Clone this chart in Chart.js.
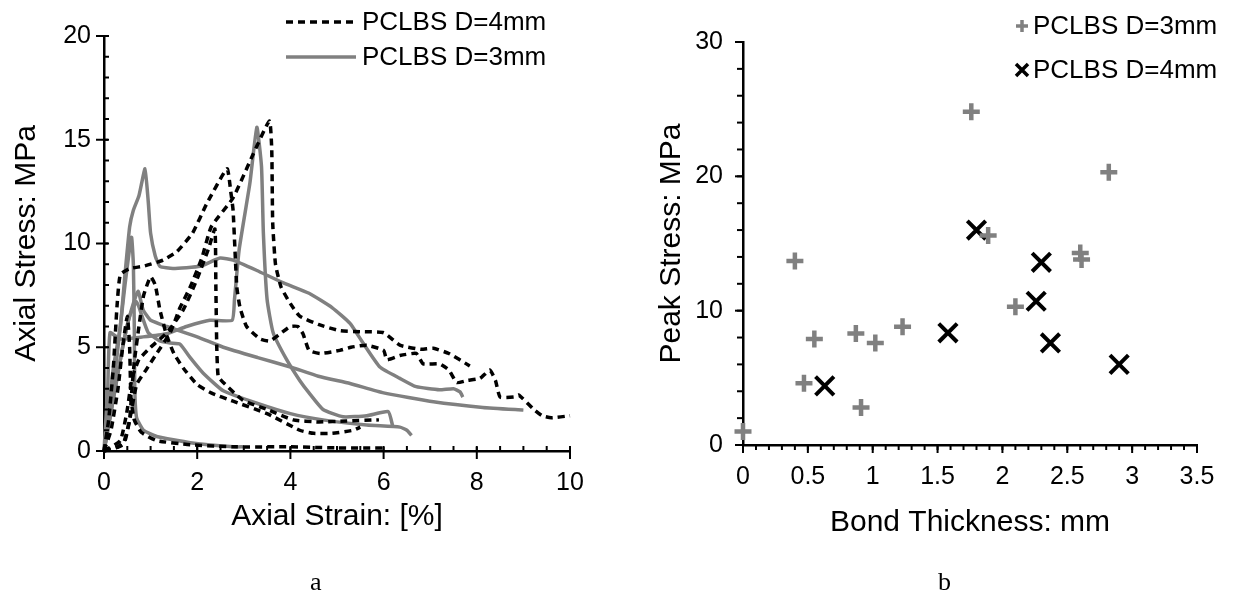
<!DOCTYPE html>
<html>
<head>
<meta charset="utf-8">
<script src="https://cdn.jsdelivr.net/npm/chart.js@4"></script>
<style>
  body { margin: 0; background: #fff; }
  #wrap { position: relative; width: 1238px; height: 611px; }
  canvas { position: absolute; top: 0; }
  #chartA { left: 0; }
  #chartB { left: 620px; }
  .cap { position: absolute; top: 569px; font: 26px "Liberation Serif", "Times New Roman", serif; line-height: 1; }
</style>
</head>
<body>
<div id="wrap">
  <canvas id="chartA" width="620" height="611"></canvas>
  <canvas id="chartB" width="618" height="611"></canvas>
  <div class="cap" style="left:310px">a</div>
  <div class="cap" style="left:938px">b</div>
</div>
<script>
/* Stress-strain curves (a) and peak stress vs bond thickness (b). */

const GREY = '#808080';
const BLACK = '#000';
const FONT = "'Liberation Sans', Arial, sans-serif";

/* --- (a) curves, D=4mm (dashed) --- */
const d4a_strain = [0, 0.4, 0.55, 0.7, 0.9, 1.13, 1.42, 1.63, 1.85, 2.1, 2.3, 2.77, 3.2, 3.55, 3.6, 3.62, 3.68, 3.8, 4.0, 4.2, 4.6, 5.06, 5.5, 6.0, 6.35, 6.8, 7.07, 7.4, 7.85];
const d4a_stress = [0, 0.3, 1.5, 3.2, 3.9, 4.7, 5.7, 6.9, 7.9, 9.3, 10.8, 12.2, 14.3, 15.9, 14.5, 11, 9, 7.9, 7.1, 6.5, 6.1, 5.8, 5.75, 5.7, 5.1, 4.9, 4.95, 4.7, 4.1];

const d4b_strain = [0, 0.1, 0.2, 0.28, 0.35, 0.56, 0.84, 1.27, 1.56, 1.9, 2.2, 2.64, 2.72, 2.77, 2.85, 2.92, 3.06, 3.35, 3.56, 3.78, 4.0, 4.16, 4.27, 4.4, 4.64, 5.06, 5.3, 5.64, 6.0, 6.07, 6.35, 6.7, 6.85, 7.2, 7.4, 7.57, 7.8, 8.07, 8.28, 8.4, 8.5, 8.8, 8.9, 9.2, 9.4, 9.6, 10];
const d4b_stress = [0, 1.5, 4, 7, 8.5, 8.8, 8.9, 9.2, 9.6, 10.5, 11.9, 13.6, 12.5, 11.6, 7.9, 6.9, 6.0, 5.4, 5.3, 5.65, 6.0, 6.0, 5.65, 4.85, 4.7, 4.85, 5.0, 5.1, 4.85, 4.4, 4.6, 4.7, 4.2, 4.2, 3.9, 3.3, 3.4, 3.5, 3.9, 3.4, 2.6, 2.6, 2.7, 2.05, 1.7, 1.6, 1.7];

const d4c_strain = [0, 0.3, 0.45, 0.55, 0.6, 0.65, 0.75, 0.85, 1.0, 1.1, 1.2, 1.34, 1.5, 1.7, 2.0, 2.3, 2.77, 3.5, 4.2, 4.5, 4.9, 5.35, 5.5];
const d4c_stress = [0, 0.2, 0.5, 1.5, 3, 4.3, 6, 7.5, 8.4, 8.0, 6.8, 5.6, 4.7, 4.0, 3.2, 2.8, 2.4, 1.8, 1.0, 0.85, 0.85, 1.0, 1.15];

const d4d_strain = [0, 0.35, 0.5, 0.6, 0.75, 1.0, 1.35, 1.7, 2.0, 2.25, 2.38, 2.4, 2.42, 2.45, 2.56, 2.98, 3.5, 4.06, 4.6, 5.2, 5.9];
const d4d_stress = [0, 0.5, 2, 3.5, 4.4, 5.0, 5.7, 6.8, 8.3, 9.8, 10.7, 8, 5, 3.6, 3.3, 2.45, 2.0, 1.5, 1.4, 1.45, 1.5];

const d4e_strain = [0, 0.15, 0.3, 0.4, 0.5, 0.55, 0.58, 0.65, 0.8, 1.13, 1.85, 2.85, 4.0, 5.0, 6.0];
const d4e_stress = [0, 1, 3, 5, 6.5, 5, 2.5, 1.5, 0.9, 0.5, 0.3, 0.2, 0.2, 0.15, 0.15];

/* --- (a) curves, D=3mm (solid grey) --- */
const d3a_strain = [0, 0.1, 0.2, 0.35, 0.45, 0.55, 0.63, 0.75, 0.88, 0.95, 1.0, 1.1, 1.2, 1.48, 2.06, 2.49, 2.77, 3.28, 3.85, 4.4, 4.9, 5.28, 5.56, 5.92, 6.35, 6.7, 7.2, 7.5, 7.64, 7.7];
const d3a_stress = [0, 2, 4, 6, 8.5, 10.8, 11.6, 12.3, 13.6, 12, 10.5, 9.4, 8.9, 8.8, 8.9, 9.3, 9.2, 8.7, 8.1, 7.6, 6.9, 6.15, 5.2, 4.05, 3.5, 3.1, 2.95, 3.0, 2.85, 2.6];

const d3b_strain = [0, 0.08, 0.13, 0.34, 0.84, 1.34, 1.77, 2.27, 2.75, 2.8, 2.9, 3.13, 3.28, 3.38, 3.42, 3.5, 3.63, 3.92, 4.2, 4.4, 4.7, 5.13, 5.64, 6.1, 6.2];
const d3b_stress = [0, 3, 5.7, 5.4, 5.5, 5.65, 6.0, 6.3, 6.3, 7.3, 9.7, 12.9, 15.6, 13.7, 10.5, 7.3, 5.7, 4.4, 3.4, 2.8, 2.0, 1.65, 1.7, 1.9, 1.15];

const d3c_strain = [0, 0.15, 0.3, 0.45, 0.59, 0.63, 0.65, 0.66, 0.7, 0.85, 1.13, 1.85, 2.77, 3.0];
const d3c_stress = [0, 2, 5, 8, 10.3, 9, 6, 3, 1.6, 1.0, 0.7, 0.4, 0.2, 0.2];

const d3d_strain = [0, 0.2, 0.4, 0.55, 0.73, 0.84, 1.0, 1.35, 2.0, 2.56, 3.3, 4.0, 4.6, 5.28, 6.0, 7.07, 8.13, 9.0];
const d3d_stress = [0, 2.5, 5, 6.5, 7.7, 6.8, 6.3, 6.0, 5.5, 5.0, 4.5, 4.05, 3.6, 3.25, 2.8, 2.37, 2.1, 1.97];

const d3e_strain = [0, 0.2, 0.4, 0.55, 0.7, 0.8, 0.95, 1.2, 1.42, 1.63, 1.85, 2.13, 2.56, 3.28, 4.0, 4.7, 5.64, 6.35, 6.5, 6.6];
const d3e_stress = [0, 2.5, 5, 6.5, 7.2, 6.6, 5.7, 5.3, 5.2, 5.15, 4.5, 3.75, 2.9, 2.3, 1.8, 1.5, 1.25, 1.15, 1.0, 0.75];

/* --- (b) peak stress vs bond thickness --- */
const d3_thick = [0, 0.4, 0.47, 0.55, 0.87, 0.91, 1.02, 1.23, 1.76, 1.89, 2.1, 2.6, 2.61, 2.82];
const d3_peak = [1.0, 13.7, 4.6, 7.9, 8.3, 2.8, 7.6, 8.8, 24.8, 15.6, 10.3, 14.3, 13.8, 20.3];
const d4_thick = [0.63, 1.58, 1.8, 2.26, 2.3, 2.37, 2.9];
const d4_peak = [4.4, 8.35, 16.0, 10.7, 13.6, 7.6, 6.0];

const legendLabels = ['PCLBS D=4mm', 'PCLBS D=3mm'];

const pairs = (xs, ys) => xs.map((x, i) => ({ x, y: ys[i] }));

function curve(xs, ys, dashed) {
    return {
        data: pairs(xs, ys),
        showLine: true,
        pointRadius: 0,
        borderColor: dashed ? BLACK : GREY,
        borderWidth: 3.5,
        borderDash: dashed ? [7, 5] : [],
        borderCapStyle: 'butt',
        borderJoinStyle: 'round',
        tension: 0.15,
        clip: 4,
    };
}

/* Major / minor tick marks drawn from the chart's own scales.
   inner = into the plot, outer = away from it. */
const tickMarks = {
    id: 'tickMarks',
    afterDatasetsDraw(chart, args, opts) {
        const { ctx } = chart;
        ctx.save();
        ctx.strokeStyle = BLACK;
        ctx.lineWidth = 2;
        for (const t of opts.marks) {
            const s = chart.scales[t.axis];
            const n = Math.round((s.max - s.min) / t.step);
            for (let i = 0; i <= n; i++) {
                const p = s.getPixelForValue(s.min + i * t.step);
                ctx.beginPath();
                if (s.isHorizontal()) {
                    ctx.moveTo(p, s.top - t.inner);
                    ctx.lineTo(p, s.top + t.outer);
                } else {
                    ctx.moveTo(s.right - t.outer, p);
                    ctx.lineTo(s.right + t.inner, p);
                }
                ctx.stroke();
            }
        }
        ctx.restore();
    },
};

const tickFont = { family: FONT, size: 25 };
const titleFont = { family: FONT, size: 30 };
const legendFont = `26px ${FONT}`;

function axis(min, max, step, size, title, titlePad, tickPad) {
    return {
        type: 'linear',
        min, max,
        ticks: { stepSize: step, color: BLACK, font: tickFont, padding: tickPad, callback: (v) => String(v) },
        grid: { display: false, drawTicks: false },
        border: { color: BLACK, width: 2.5 },
        title: { display: true, text: title, color: BLACK, font: titleFont, padding: titlePad },
        afterFit(s) {
            if (s.isHorizontal()) s.height = size; else s.width = size;
        },
    };
}

/* --- (a) --- */
new Chart(document.getElementById('chartA'), {
    type: 'scatter',
    data: {
        datasets: [
            curve(d4a_strain, d4a_stress, true),
            curve(d4b_strain, d4b_stress, true),
            curve(d4c_strain, d4c_stress, true),
            curve(d4d_strain, d4d_stress, true),
            curve(d4e_strain, d4e_stress, true),
            curve(d3a_strain, d3a_stress, false),
            curve(d3b_strain, d3b_stress, false),
            curve(d3c_strain, d3c_stress, false),
            curve(d3d_strain, d3d_stress, false),
            curve(d3e_strain, d3e_stress, false),
        ],
    },
    options: {
        responsive: false,
        animation: false,
        layout: { padding: { top: 36, right: 50, left: 0, bottom: 0 } },
        plugins: {
            legend: { display: false },
            tooltip: { enabled: false },
            tickMarks: {
                marks: [
                    { axis: 'x', step: 2, inner: 4, outer: 8 },
                    { axis: 'x', step: 0.5, inner: 5, outer: 0 },
                    { axis: 'y', step: 5, inner: 4, outer: 8 },
                    { axis: 'y', step: 1, inner: 5, outer: 0 },
                ],
            },
        },
        scales: {
            x: axis(0, 10, 2, 160, 'Axial Strain: [%]', { bottom: 76 }, 17),
            y: axis(0, 20, 5, 104, 'Axial Stress: MPa', { top: 9 }, 13),
        },
    },
    plugins: [tickMarks, {
        id: 'legendA',
        afterDraw(c) {
            const { ctx } = c;
            ctx.save();
            ctx.font = legendFont;
            ctx.fillStyle = BLACK;
            ctx.textBaseline = 'middle';
            [[22, BLACK, [7, 5]], [57, GREY, []]].forEach(([y, color, dash], i) => {
                ctx.strokeStyle = color;
                ctx.lineWidth = 3.5;
                ctx.setLineDash(dash);
                ctx.beginPath();
                ctx.moveTo(286, y);
                ctx.lineTo(356, y);
                ctx.stroke();
                ctx.fillText(legendLabels[i], 362, y + 1);
            });
            ctx.restore();
        },
    }],
});

/* --- (b) --- */
new Chart(document.getElementById('chartB'), {
    type: 'scatter',
    data: {
        datasets: [
            {
                data: pairs(d3_thick, d3_peak),
                pointStyle: 'cross',
                pointRadius: 8.5,
                borderWidth: 4.5,
                borderColor: GREY,
                clip: false,
            },
            {
                data: pairs(d4_thick, d4_peak),
                pointStyle: 'crossRot',
                pointRadius: 13,
                borderWidth: 4,
                borderColor: BLACK,
                clip: false,
            },
        ],
    },
    options: {
        responsive: false,
        animation: false,
        layout: { padding: { top: 42, right: 41, left: 0, bottom: 0 } },
        plugins: {
            legend: { display: false },
            tooltip: { enabled: false },
            tickMarks: {
                marks: [
                    { axis: 'x', step: 0.5, inner: 0, outer: 8 },
                    { axis: 'x', step: 0.1, inner: 0, outer: 5 },
                    { axis: 'y', step: 10, inner: 0, outer: 8 },
                    { axis: 'y', step: 2, inner: 0, outer: 6 },
                ],
            },
        },
        scales: {
            x: axis(0, 3.5, 0.5, 166, 'Bond Thickness: mm', { bottom: 70 }, 17),
            y: axis(0, 30, 10, 123, 'Peak Stress: MPa', { top: 34 }, 20),
        },
    },
    plugins: [tickMarks, {
        id: 'legendB',
        afterDraw(c) {
            const { ctx } = c;
            ctx.save();
            ctx.font = legendFont;
            ctx.fillStyle = BLACK;
            ctx.textBaseline = 'middle';
            ctx.lineWidth = 3.5;
            // grey plus
            ctx.strokeStyle = GREY;
            ctx.beginPath();
            ctx.moveTo(396, 26); ctx.lineTo(408, 26);
            ctx.moveTo(402, 20); ctx.lineTo(402, 32);
            ctx.stroke();
            ctx.fillText(legendLabels[1], 413, 27);
            // black x
            ctx.strokeStyle = BLACK;
            ctx.beginPath();
            ctx.moveTo(396, 64); ctx.lineTo(408, 76);
            ctx.moveTo(408, 64); ctx.lineTo(396, 76);
            ctx.stroke();
            ctx.fillText(legendLabels[0], 413, 71);
            ctx.restore();
        },
    }],
});
</script>
</body>
</html>
